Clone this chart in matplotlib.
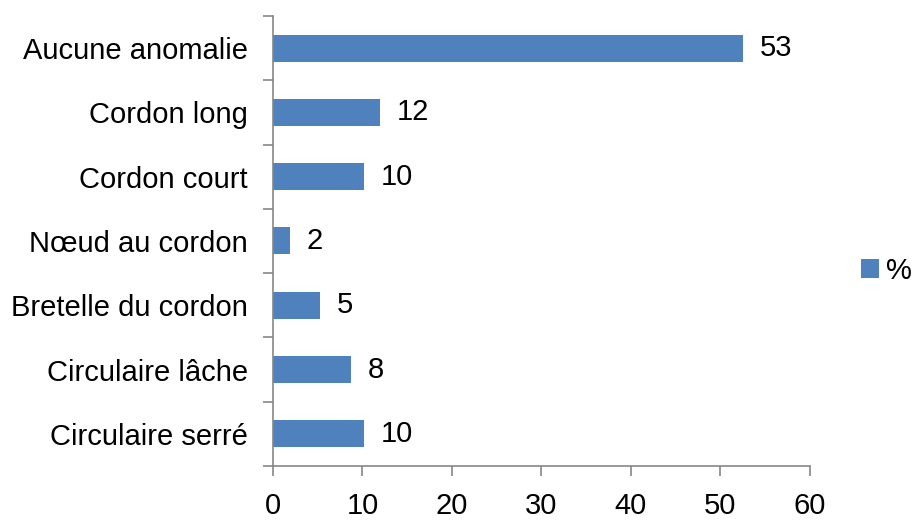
import matplotlib.pyplot as plt
import numpy as np

plt.rcParams['font.family'] = ['Liberation Sans', 'DejaVu Sans']

categories = ["Circulaire serré", "Circulaire lâche", "Bretelle du cordon",
              "Nœud au cordon", "Cordon court", "Cordon long", "Aucune anomalie"]
values = [10.2, 8.7, 5.3, 1.9, 10.2, 12.0, 52.5]
labels = ["10", "8", "5", "2", "10", "12", "53"]
xticks = [0, 10, 20, 30, 40, 50, 60]

blue = "#4F81BD"
grey = "#868686"
fs = 21

fig = plt.figure(figsize=(9.16, 5.21), dpi=100)
ax = fig.add_axes([0.298, 0.1056, 0.586, 0.8637])

y = np.arange(len(categories))
bars = ax.barh(y, values, height=0.42, color=blue, label="%")
ax.bar_label(bars, labels=labels, padding=12, fontsize=fs)

ax.set_xlim(0, 60)
ax.set_ylim(-0.5, len(categories) - 0.5)
ax.set_xticks(xticks)
ax.set_yticks(y)
ax.set_yticklabels(categories)
ax.set_yticks(np.arange(-0.5, len(categories), 1), minor=True)

ax.tick_params(axis="y", which="major", length=0, pad=18, labelsize=fs)
ax.tick_params(axis="y", which="minor", length=7, color=grey, width=1.2)
ax.tick_params(axis="x", length=7, color=grey, width=1.2, pad=12, labelsize=fs)

for s in ["top", "right"]:
    ax.spines[s].set_visible(False)
for s in ["left", "bottom"]:
    ax.spines[s].set_color(grey)
    ax.spines[s].set_linewidth(1.2)

fig.legend(loc="center left", bbox_to_anchor=(0.94, 0.48), frameon=False,
           fontsize=fs, handlelength=0.6, handleheight=0.6, handletextpad=0.25,
           borderaxespad=0, borderpad=0)

fig.savefig("out.png", dpi=100)
